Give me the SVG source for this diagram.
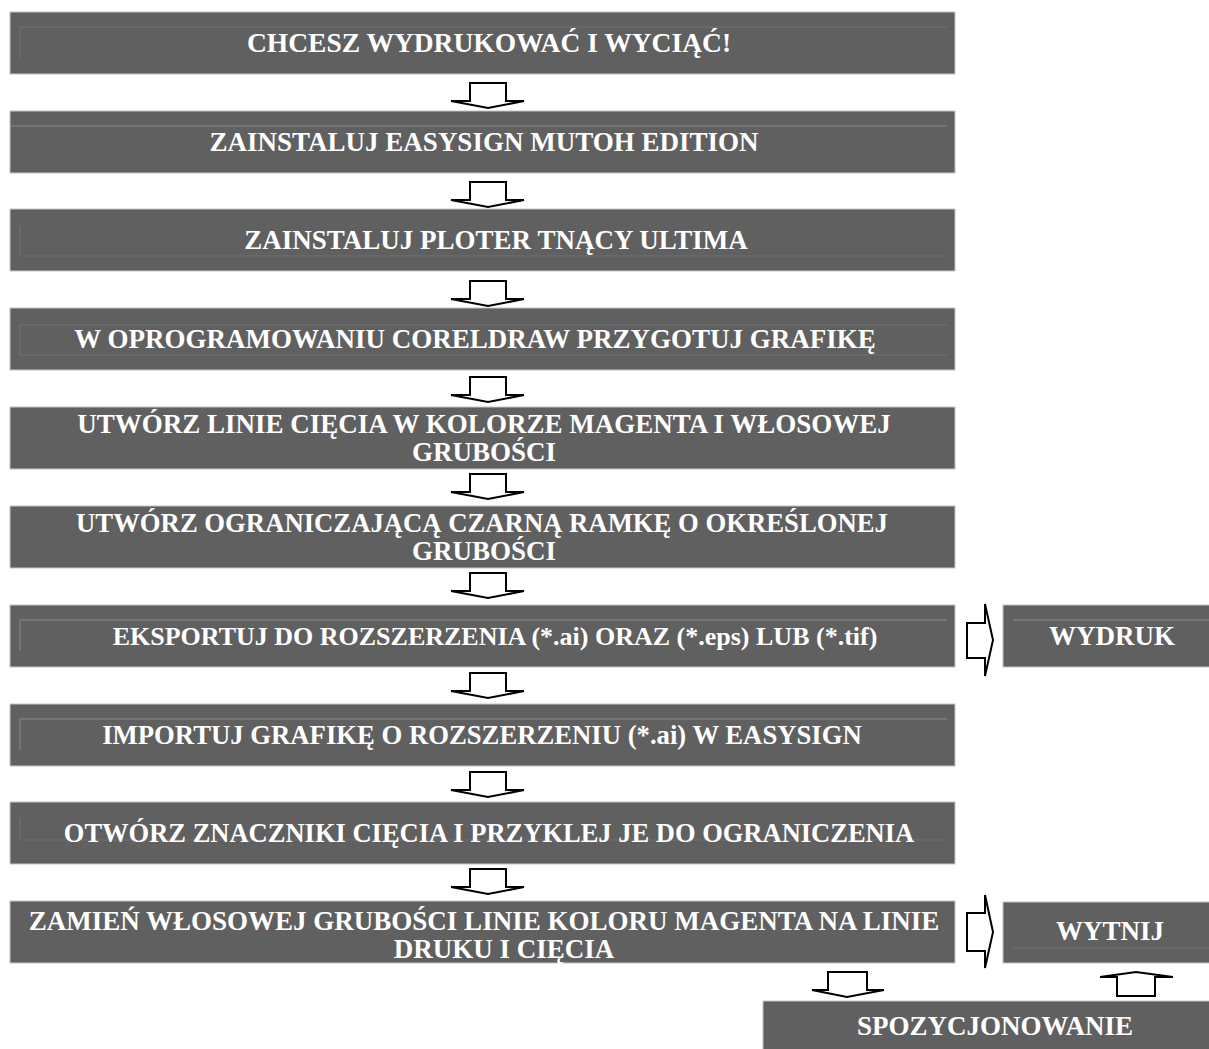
<svg xmlns="http://www.w3.org/2000/svg" width="1209" height="1049" viewBox="0 0 1209 1049">
<style>
.box{fill:#606060;stroke:#c4c4c4;stroke-width:1}
.in{stroke:#707070;stroke-width:1;fill:none}
.t{font-family:"Liberation Serif","Times New Roman",serif;font-weight:bold;font-size:27px;fill:#ffffff;text-anchor:middle}
.ar{fill:#ffffff;stroke:#000000;stroke-width:2;stroke-linejoin:miter}
</style>
<rect width="1209" height="1049" fill="#ffffff"/>
<g id="n1"><rect class="box" x="10" y="12" width="945" height="62"/><path class="in" d="M20 58V27H947"/><text class="t" x="489" y="52" style="font-size:27.5px">CHCESZ WYDRUKOWAĆ I WYCIĄĆ!</text></g>
<g id="n2"><rect class="box" x="10" y="111" width="945" height="62"/><path class="in" d="M10 126H947" style="stroke:#888"/><text class="t" x="484" y="151">ZAINSTALUJ EASYSIGN MUTOH EDITION</text></g>
<g id="n3"><rect class="box" x="10" y="209" width="945" height="62"/><path class="in" d="M20 226V256H947"/><text class="t" x="496" y="249">ZAINSTALUJ PLOTER TNĄCY ULTIMA</text></g>
<g id="n4"><rect class="box" x="10" y="308" width="945" height="62"/><path class="in" d="M20 355V325H947M20 355H947"/><text class="t" x="475" y="348">W OPROGRAMOWANIU CORELDRAW PRZYGOTUJ GRAFIKĘ</text></g>
<g id="n5"><rect class="box" x="10" y="407" width="945" height="62"/><text class="t" x="484" y="433">UTWÓRZ LINIE CIĘCIA W KOLORZE MAGENTA I WŁOSOWEJ</text><text class="t" x="484" y="461">GRUBOŚCI</text></g>
<g id="n6"><rect class="box" x="10" y="506" width="945" height="62"/><text class="t" x="482" y="532" style="font-size:26.7px">UTWÓRZ OGRANICZAJĄCĄ CZARNĄ RAMKĘ O OKREŚLONEJ</text><text class="t" x="484" y="560">GRUBOŚCI</text></g>
<g id="n7"><rect class="box" x="10" y="605" width="945" height="62"/><path class="in" d="M20 651V620H947" style="stroke:#888"/><text class="t" x="495" y="645" style="font-size:26px">EKSPORTUJ DO ROZSZERZENIA (*.ai) ORAZ (*.eps) LUB (*.tif)</text></g>
<g id="n8"><rect class="box" x="10" y="704" width="945" height="62"/><path class="in" d="M20 750V719H947" style="stroke:#888"/><text class="t" x="482" y="744" style="font-size:26.7px">IMPORTUJ GRAFIKĘ O ROZSZERZENIU (*.ai) W EASYSIGN</text></g>
<g id="n9"><rect class="box" x="10" y="802" width="945" height="62"/><path class="in" d="M20 818V840H947"/><text class="t" x="489" y="842" style="font-size:26.5px">OTWÓRZ ZNACZNIKI CIĘCIA I PRZYKLEJ JE DO OGRANICZENIA</text></g>
<g id="n10"><rect class="box" x="10" y="901" width="945" height="62"/><text class="t" x="484" y="930">ZAMIEŃ WŁOSOWEJ GRUBOŚCI LINIE KOLORU MAGENTA NA LINIE</text><text class="t" x="504" y="958">DRUKU I CIĘCIA</text></g>
<g id="n11"><rect class="box" x="1003" y="605" width="210" height="62"/><path class="in" d="M1013 620H1209" style="stroke:#888"/><text class="t" x="1112" y="645">WYDRUK</text></g>
<g id="n12"><rect class="box" x="1003" y="902" width="210" height="61"/><path class="in" d="M1013 948H1209"/><text class="t" x="1110" y="940">WYTNIJ</text></g>
<g id="n13"><rect class="box" x="763" y="1001" width="450" height="52"/><text class="t" x="995" y="1035">SPOZYCJONOWANIE</text></g>
<g id="connectors">
<path class="ar" d="M470 101V83H506V101H524L488 108L451 101Z"/>
<path class="ar" d="M470 200V182H506V200H524L488 207L451 200Z"/>
<path class="ar" d="M470 299V281H506V299H524L488 306L451 299Z"/>
<path class="ar" d="M470 395V377H506V395H524L488 402L451 395Z"/>
<path class="ar" d="M470 492V474H506V492H524L488 499L451 492Z"/>
<path class="ar" d="M470 591V573H506V591H524L488 598L451 591Z"/>
<path class="ar" d="M470 691V673H506V691H524L488 698L451 691Z"/>
<path class="ar" d="M470 790V772H506V790H524L488 797L451 790Z"/>
<path class="ar" d="M470 887V869H506V887H524L488 894L451 887Z"/>
<path class="ar" d="M967 623H985V604L993 640L985 676V658H967Z"/>
<path class="ar" d="M967 913H985V895L993 932L985 968V951H967Z"/>
<path class="ar" d="M828 990V972H867V990H884L847 997L812 990Z"/>
<path class="ar" d="M1117 996V977H1100L1136 972L1173 977H1155V996Z"/>
</g>
</svg>
